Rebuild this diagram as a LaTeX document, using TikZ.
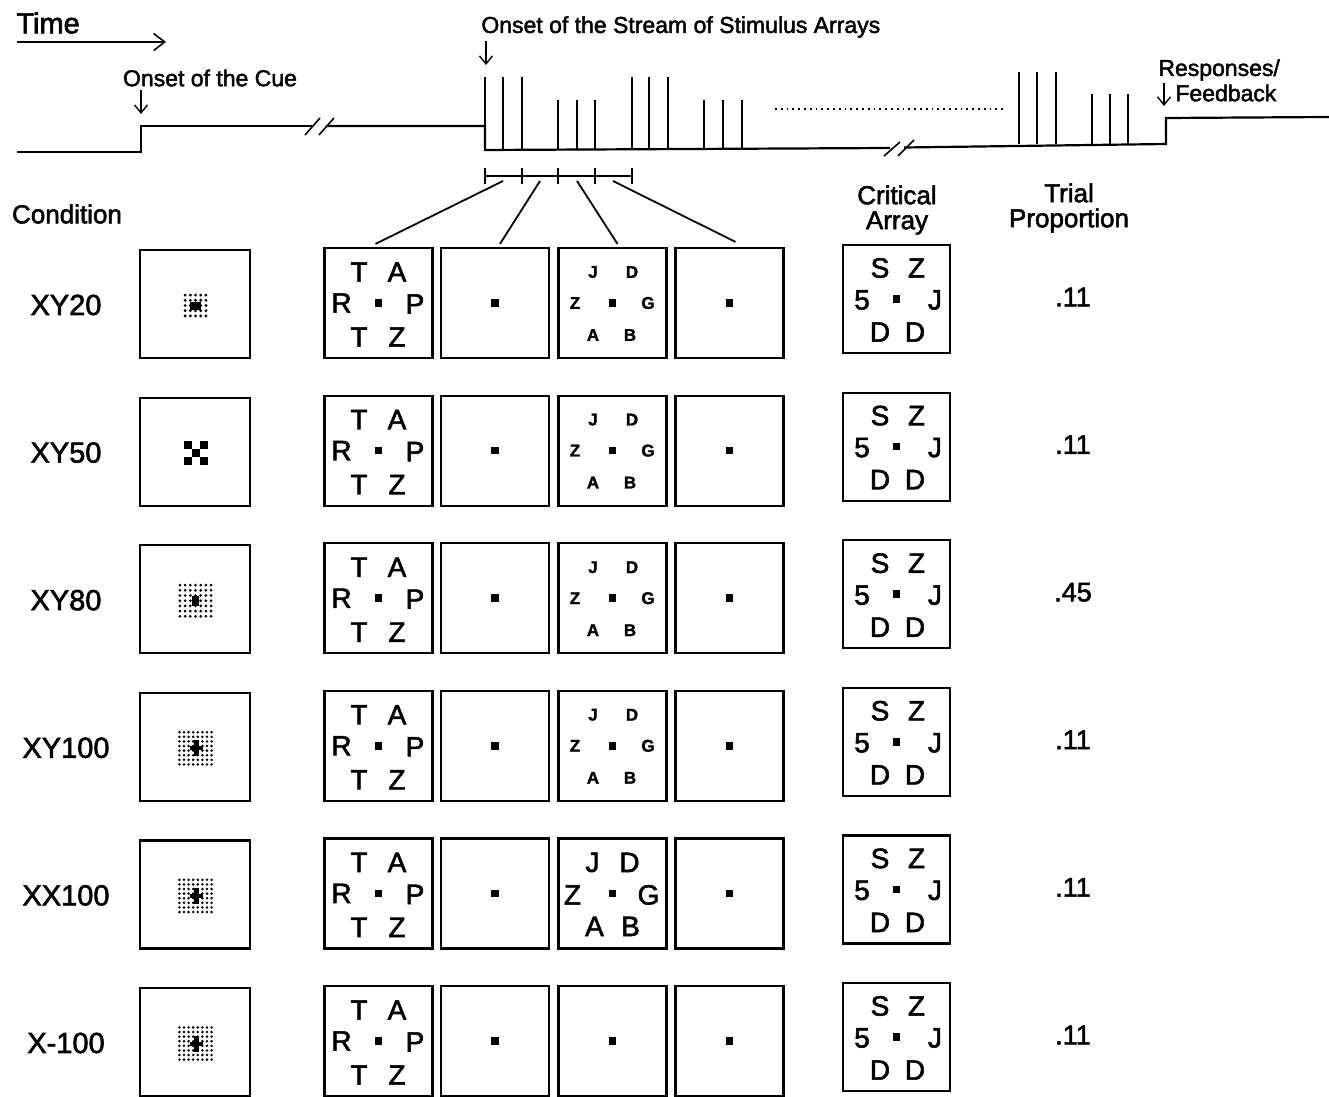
\documentclass[tikz,border=0pt]{standalone}
\usepackage{fontspec}
\setmainfont{Liberation Sans}[FakeBold=1.5]
\newfontfamily\thk{Liberation Sans}[FakeBold=2]
\usetikzlibrary{arrows.meta}
\tikzset{
  frame/.style={draw, line width=1.1pt, minimum width=54pt, minimum height=55pt, inner sep=0pt},
  cuebox/.style={frame, minimum width=55pt, minimum height=54pt},
  critbox/.style={frame, minimum width=53.5pt, minimum height=54pt},
  tline/.style={line width=1.1pt},
  spike/.style={line width=0.85pt},
  barb/.style={line width=0.7pt, -{Straight Barb[length=4pt,width=6.5pt]}},
  bigl/.style={inner sep=0pt, font=\thk\fontsize{14}{14}\selectfont},
  smalll/.style={inner sep=0pt, font=\bfseries\fontsize{8.5}{9}\selectfont},
  rowlab/.style={inner sep=0pt, font=\thk\fontsize{14.5}{16}\selectfont},
  head/.style={inner sep=0pt, align=center, font=\thk\fontsize{13}{12.5}\selectfont},
  note/.style={inner sep=0pt, font=\thk\fontsize{11.5}{11.5}\selectfont},
}
\newcommand\fixsq{\fill (-3.8,-3.8) rectangle (3.8,3.8);}
% letter sets: #1 prefix
\newcommand\bigset[7]{%
  \node[bigl] (#1a) at (-19.5,-31) {#2};
  \node[bigl] (#1b) at (18.5,-31) {#3};
  \node[bigl] (#1c) at (-37,0) {#4};
  \node[bigl] (#1d) at (36.5,1) {#5};
  \node[bigl] (#1e) at (-19.5,34) {#6};
  \node[bigl] (#1f) at (18.5,34) {#7};
  \fixsq}
\newcommand\smallset[7]{%
  \node[smalll] (#1a) at (-19.5,-31) {#2};
  \node[smalll] (#1b) at (19.5,-31) {#3};
  \node[smalll] (#1c) at (-37.5,0) {#4};
  \node[smalll] (#1d) at (35.5,0) {#5};
  \node[smalll] (#1e) at (-19.5,32) {#6};
  \node[smalll] (#1f) at (17.5,32) {#7};
  \fixsq}
\newcommand\thirdSs[1]{\smallset{#1}{J}{D}{Z}{G}{A}{B}}
\newcommand\thirdSL[1]{%
  \node[bigl] (#1a) at (-20,-31) {J};
  \node[bigl] (#1b) at (17,-31) {D};
  \node[bigl] (#1c) at (-40,1.5) {Z};
  \node[bigl] (#1d) at (36,1.5) {G};
  \node[bigl] (#1e) at (-18,33) {A};
  \node[bigl] (#1f) at (18,33) {B};
  \fixsq}
\newcommand\thirdSn[1]{\fixsq}
% cue stimuli
\newcommand\cueSA{%
  \foreach \i in {0,...,4}{\foreach \j in {0,...,4}{\fill (\i*5.2-10.4,\j*5.2-10.4) circle (0.8pt);}}
  \fill (-5.5,-4) rectangle (5.5,4);}
\newcommand\cueSB{%
  \foreach \i/\j in {-1/-1,1/-1,0/0,-1/1,1/1}{\fill (\i*8-4,\j*8-4) rectangle +(8,8);}}
\newcommand\cueSC{%
  \foreach \i in {0,...,6}{\foreach \j in {0,...,6}{\fill (\i*5.2-15.6,\j*5.2-15.6) circle (0.75pt);}}
  \fill (-3.5,-5) rectangle (3.5,5);}
\newcommand\cueSD{%
  \foreach \i in {0,...,7}{\foreach \j in {0,...,7}{\fill (\i*4.6-16.1,\j*4.6-16.1) circle (0.7pt);}}
  \fill (-2,-8) rectangle (3,8);
  \fill (-6,-2) rectangle (7,2);}
\begin{document}
\begin{tikzpicture}[x=0.5pt,y=-0.5pt]
\useasboundingbox (0,0) rectangle (1329,1097);

% ---------- time line ----------
\node[inner sep=0pt, anchor=west, font=\thk\fontsize{14.5}{15}\selectfont] (time) at (16,23) {Time};
\coordinate (ta) at (17,42);
\coordinate (tb) at (166,42);
\draw[line width=0.8pt, -{Straight Barb[length=5.5pt,width=8.5pt]}] (ta) -- (tb);

\draw[tline] (17,152) -- (141,152) -- (141,126) -- (312,126);
\draw[tline] (326,126) -- (485,126) -- (485,150) -- (890,148);
\draw[tline] (904,147.5) -- (1166,144) -- (1166,118) -- (1329,117);
% breaks
\draw[line width=0.8pt] (305,135) -- (320,118);
\draw[line width=0.8pt] (319,135) -- (334,118);
\draw[line width=0.8pt] (884,156) -- (900,142);
\draw[line width=0.8pt] (898,156) -- (914,140);

% spikes
\foreach \x in {485,503,522,632,649,668}{\draw[spike] (\x,77) -- (\x,150);}
\foreach \x in {558,577,595,704,723,742}{\draw[spike] (\x,100) -- (\x,150);}
\foreach \x in {1019,1037,1056}{\draw[spike] (\x,72) -- (\x,144.5);}
\foreach \x in {1092,1110,1128}{\draw[spike] (\x,94) -- (\x,144.5);}
\draw[line width=0.9pt, dotted] (775,109) -- (1005,109);

% onset labels and arrows
\node[note] (cuelab) at (210,78) {Onset of the Cue};
\coordinate (cuea) at (141,90); \coordinate (cueb) at (141,114);
\draw[barb] (cuea) -- (cueb);
\node[note, anchor=west] (streamlab) at (481,27) {Onset of the Stream of Stimulus Arrays};
\coordinate (sa) at (486,41); \coordinate (sb) at (486,65);
\draw[barb] (sa) -- (sb);
\node[note, anchor=west] (resp) at (1158,70) {Responses/};
\node[note, anchor=west] (feed) at (1175,93) {Feedback};
\coordinate (ra) at (1164,83); \coordinate (rb) at (1164,106);
\draw[barb] (ra) -- (rb);

% bracket
\draw[line width=0.9pt] (485,176) -- (632,176);
\foreach \x in {485,522,558,595,632}{\draw[line width=0.9pt] (\x,168) -- (\x,184);}
\coordinate (f1) at (503,181);
\coordinate (f2) at (540,181);
\coordinate (f3) at (577,181);
\coordinate (f4) at (613,181);

% headers
\node[head] (cond) at (67,214) {Condition};
\node[head] (crit) at (897,210) {Critical\\Array};
\node[head] (trial) at (1069,208) {Trial\\Proportion};

% ---------- rows ----------
\foreach \k/\lab/\prop/\cu/\th in {0/XY20/.11/A/s, 1/XY50/.11/B/s, 2/XY80/.45/C/s, 3/XY100/.11/D/s, 4/XX100/.11/D/L, 5/X-100/.11/D/n}{
  \pgfmathsetmacro\yc{303+147.6*\k}
  \node[rowlab] (lab\k) at (66,\yc+2) {\lab};
  \node[cuebox] (cue\k) at (195,\yc+1) {};
  \begin{scope}[shift={(195.5,\yc+2.5)}]
    \csname cueS\cu\endcsname
  \end{scope}
  \node[frame] (b\k-1) at (378.5,\yc) {};
  \node[frame] (b\k-2) at (495,\yc) {};
  \node[frame] (b\k-3) at (612.5,\yc) {};
  \node[frame] (b\k-4) at (729.5,\yc) {};
  \begin{scope}[shift={(378.5,\yc)}]
    \bigset{p\k}{T}{A}{R}{P}{T}{Z}
  \end{scope}
  \begin{scope}[shift={(495,\yc)}]\fixsq\end{scope}
  \begin{scope}[shift={(612.5,\yc)}]
    \csname thirdS\th\endcsname{q\k}
  \end{scope}
  \begin{scope}[shift={(729.5,\yc)}]\fixsq\end{scope}
  \node[critbox] (c\k) at (896.5,\yc-4) {};
  \begin{scope}[shift={(896.5,\yc-4)}]
    \node[bigl] (s\k a) at (-16.5,-31) {S};
    \node[bigl] (s\k b) at (20,-31) {Z};
    \node[bigl] (s\k c) at (-34.5,1) {5};
    \node[bigl] (s\k d) at (38.5,1) {J};
    \node[bigl] (s\k e) at (-16.5,33) {D};
    \node[bigl] (s\k f) at (18.5,33) {D};
    \fixsq
  \end{scope}
  \node[rowlab, font=\thk\fontsize{13.5}{14}\selectfont] (pr\k) at (1073,\yc-6) {\prop};
}

% fan lines
\draw[line width=0.9pt] (f1) -- ([xshift=-1.5pt,yshift=1.5pt]b0-1.north);
\draw[line width=0.9pt] (f2) -- ([xshift=2.5pt,yshift=1.5pt]b0-2.north);
\draw[line width=0.9pt] (f3) -- ([xshift=2.5pt,yshift=1.5pt]b0-3.north);
\draw[line width=0.9pt] (f4) -- ([xshift=3pt,yshift=2.5pt]b0-4.north);
\end{tikzpicture}
\end{document}
